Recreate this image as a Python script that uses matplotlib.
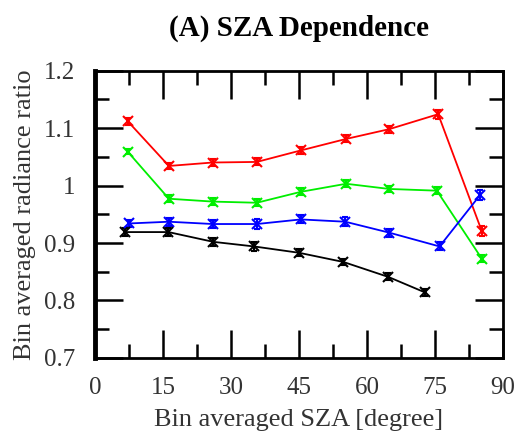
import matplotlib
matplotlib.use('Agg')
import matplotlib.pyplot as plt
from matplotlib.ticker import MultipleLocator

plt.rcParams['font.family'] = ['Liberation Serif', 'DejaVu Serif']

# Bin averaged SZA [degree] and radiance ratio, one series per colour
sza_red = [7.2, 16.3, 26.0, 35.7, 45.4, 55.4, 64.9, 75.7, 85.3]
ratio_red = [1.112, 1.034, 1.040, 1.041, 1.061, 1.081, 1.098, 1.124, 0.921]
err_red = [0.006, 0.006, 0.006, 0.006, 0.006, 0.006, 0.006, 0.008, 0.008]

sza_green = [7.2, 16.3, 26.0, 35.7, 45.4, 55.4, 64.9, 75.4, 85.3]
ratio_green = [1.059, 0.977, 0.972, 0.970, 0.989, 1.003, 0.994, 0.991, 0.873]
err_green = [0.005, 0.006, 0.006, 0.006, 0.006, 0.006, 0.005, 0.006, 0.006]

sza_blue = [7.6, 16.3, 26.0, 35.7, 45.4, 55.2, 64.9, 76.0, 84.9]
ratio_blue = [0.934, 0.937, 0.933, 0.933, 0.941, 0.937, 0.918, 0.894, 0.983]
err_blue = [0.006, 0.007, 0.007, 0.008, 0.007, 0.008, 0.007, 0.007, 0.009]

sza_black = [6.6, 16.2, 26.1, 35.1, 45.0, 54.8, 64.7, 72.8]
ratio_black = [0.919, 0.919, 0.902, 0.894, 0.883, 0.867, 0.841, 0.814]
err_black = [0.007, 0.007, 0.007, 0.008, 0.006, 0.006, 0.006, 0.006]

series = [
    (sza_red, ratio_red, err_red, '#ff0000'),
    (sza_green, ratio_green, err_green, '#00ee00'),
    (sza_blue, ratio_blue, err_blue, '#0000ff'),
    (sza_black, ratio_black, err_black, '#000000'),
]

fig = plt.figure(figsize=(5.21, 4.36), dpi=100)
ax = fig.add_axes([0.1823, 0.1789, 0.7832, 0.6594])

for x, y, e, c in series:
    ax.errorbar(x, y, yerr=e, color=c, lw=1.3, marker='x', ms=7, mew=1.5,
                capsize=2.5, elinewidth=1.5, capthick=1.5)

ax.set_xlim(0, 90)
ax.set_ylim(0.7, 1.2)
ax.xaxis.set_minor_locator(MultipleLocator(7.5))
ax.yaxis.set_minor_locator(MultipleLocator(0.05))
ax.set_xticks([0, 15, 30, 45, 60, 75, 90])
ax.set_xticklabels(['0', '15', '30', '45', '60', '75', '90'])
ax.set_yticks([0.7, 0.8, 0.9, 1.0, 1.1, 1.2])
ax.set_yticklabels(['0.7', '0.8', '0.9', '1', '1.1', '1.2'])

ax.tick_params(which='both', direction='in', top=True, right=True,
               labelsize=18, labelcolor='#333333', width=1.8)
ax.tick_params(which='major', length=20, pad=14)
ax.tick_params(which='minor', length=10)

for side in ['top', 'right', 'bottom']:
    ax.spines[side].set_linewidth(2)
ax.spines['left'].set_linewidth(3.5)

ax.set_xlabel('Bin averaged SZA [degree]', fontsize=19, color='#333333', labelpad=7)
ax.set_ylabel('Bin averaged radiance ratio', fontsize=19, color='#333333', labelpad=6)
ax.set_title('(A) SZA Dependence', fontsize=21, fontweight='bold', pad=25)

fig.savefig('out.png', dpi=100)
